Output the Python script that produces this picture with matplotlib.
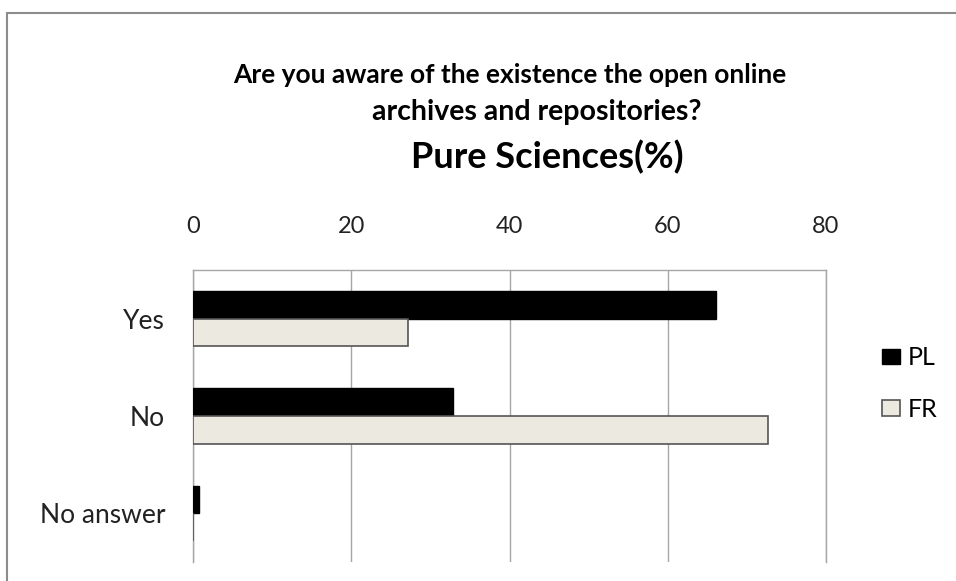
import numpy as np
import matplotlib.pyplot as plt
from matplotlib.patches import Rectangle

categories = ["Yes", "No", "No answer"]
pl_values = [66.1, 32.9, 0.8]
fr_values = [27.2, 72.7, 0.0]
series_names = ["PL", "FR"]
x_ticks = [0, 20, 40, 60, 80]

plt.rcParams['font.family'] = ['Lato', 'DejaVu Sans']

fig = plt.figure(figsize=(9.56, 5.81), dpi=100)

# outer chart frame (only left and top edges fall inside the image)
fig.patches.append(Rectangle((7 / 956, -0.1), 1.2, (581 - 13) / 581 + 0.1,
                             transform=fig.transFigure, fill=False,
                             edgecolor="#8c8c8c", linewidth=1.5))

ax = fig.add_axes([193 / 956, 19 / 581, 633 / 956, 292 / 581])

y = np.arange(len(categories))
h = 0.283
ax.barh(y - h / 2, pl_values, height=h, color="black", edgecolor="black",
        linewidth=1, label=series_names[0], zorder=3)
ax.barh(y + h / 2, fr_values, height=h, color="#eceae0", edgecolor="#555555",
        linewidth=1.2, label=series_names[1], zorder=3)

ax.set_xlim(0, 80)
ax.set_ylim(len(categories) - 0.5, -0.5)
ax.set_xticks(x_ticks)
ax.set_yticks(y)
ax.set_yticklabels(categories)
ax.xaxis.tick_top()
ax.tick_params(axis="x", length=0, pad=24, labelsize=17, colors="#222222")
ax.tick_params(axis="y", length=0, pad=20, labelsize=19, colors="#222222")
ax.grid(axis="x", color="#a6a6a6", linewidth=1, zorder=0)

for side in ["left", "top", "right"]:
    ax.spines[side].set_color("#a6a6a6")
    ax.spines[side].set_linewidth(1)
ax.spines["bottom"].set_visible(False)

leg = ax.legend(loc="center left", bbox_to_anchor=(1.053, 0.611), frameon=False,
                fontsize=18, handlelength=0.72, handleheight=0.6,
                handletextpad=0.3, labelspacing=1.14)

# three title lines, each centred on its own
fig.text(0.533, 0.871, "Are you aware of the existence the open online",
         ha="center", va="center", fontsize=19, fontweight="bold")
fig.text(0.561, 0.807, "archives and repositories?",
         ha="center", va="center", fontsize=20.5, fontweight="bold")
fig.text(0.572, 0.729, "Pure Sciences(%)",
         ha="center", va="center", fontsize=26, fontweight="bold")

fig.savefig("out.png", dpi=100, facecolor="white")
